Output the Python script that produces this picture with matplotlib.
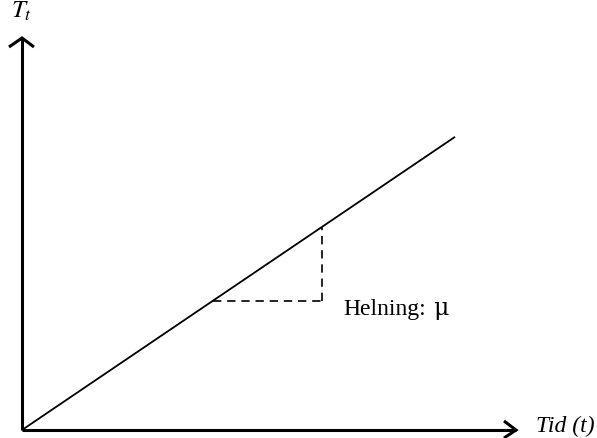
import matplotlib
matplotlib.use("Agg")
import matplotlib.pyplot as plt
import numpy as np

# Data (conceptual units)
t_line = [0.0, 10.0]
mu = 0.677
T_line = [mu * t for t in t_line]
t_slope = [4.4, 6.93]  # slope triangle start / end
x_label = "Tid (t)"
y_label = "$T_t$"
slope_label = "Helning:"
slope_symbol = "μ"

S = 43.3  # px per unit
fig = plt.figure(figsize=(5.97, 4.39), dpi=100)
ax = fig.add_axes([0, 0, 1, 1])
ax.set_xlim(-22 / S, 575 / S)
ax.set_ylim(-8 / S, 431 / S)
ax.axis("off")

def px(x, y):
    return ((x - 22) / S, (431 - y) / S)

lw_ax = 2.2
# x axis + chevron
xtip = px(516, 431)
ax.plot([0, xtip[0]], [0, 0], color="black", lw=lw_ax, solid_capstyle="butt")
a1, a2 = px(504, 422), px(504, 439)
ax.plot([a1[0], xtip[0], a2[0]], [a1[1], xtip[1], a2[1]], color="black", lw=lw_ax,
        solid_joinstyle="miter", solid_capstyle="butt")
# y axis + chevron
ytip = px(22, 39)
ax.plot([0, 0], [0, ytip[1]], color="black", lw=lw_ax, solid_capstyle="butt")
b1, b2 = px(9, 48), px(34, 48)
ax.plot([b1[0], ytip[0], b2[0]], [b1[1], ytip[1], b2[1]], color="black", lw=lw_ax,
        solid_joinstyle="miter", solid_capstyle="butt")

# trend line
ax.plot(t_line, T_line, color="black", lw=1.3, solid_capstyle="butt")

# slope triangle
y0 = mu * t_slope[0]
y1 = mu * t_slope[1]
ax.plot([t_slope[0], t_slope[1]], [y0, y0], color="black", lw=1.2, ls=(0, (5, 3.5)))
ax.plot([t_slope[1], t_slope[1]], [y0, y1], color="black", lw=1.2, ls=(0, (5, 3.5)))

serif = "Liberation Serif"
p = px(343, 315)
ax.text(p[0], p[1], slope_label, fontsize=17, family=serif, va="baseline", ha="left")
p = px(433, 315)
ax.text(p[0], p[1], slope_symbol, fontsize=17, family="DejaVu Serif", va="baseline", ha="left")
p = px(536, 432)
ax.text(p[0], p[1], x_label, fontsize=17, family=serif,
        style="italic", va="baseline", ha="left")
p = px(11, 18)
ax.text(p[0], p[1], y_label, fontsize=18, va="baseline", ha="left",
        math_fontfamily="stix")

fig.savefig("out.png", dpi=100)
